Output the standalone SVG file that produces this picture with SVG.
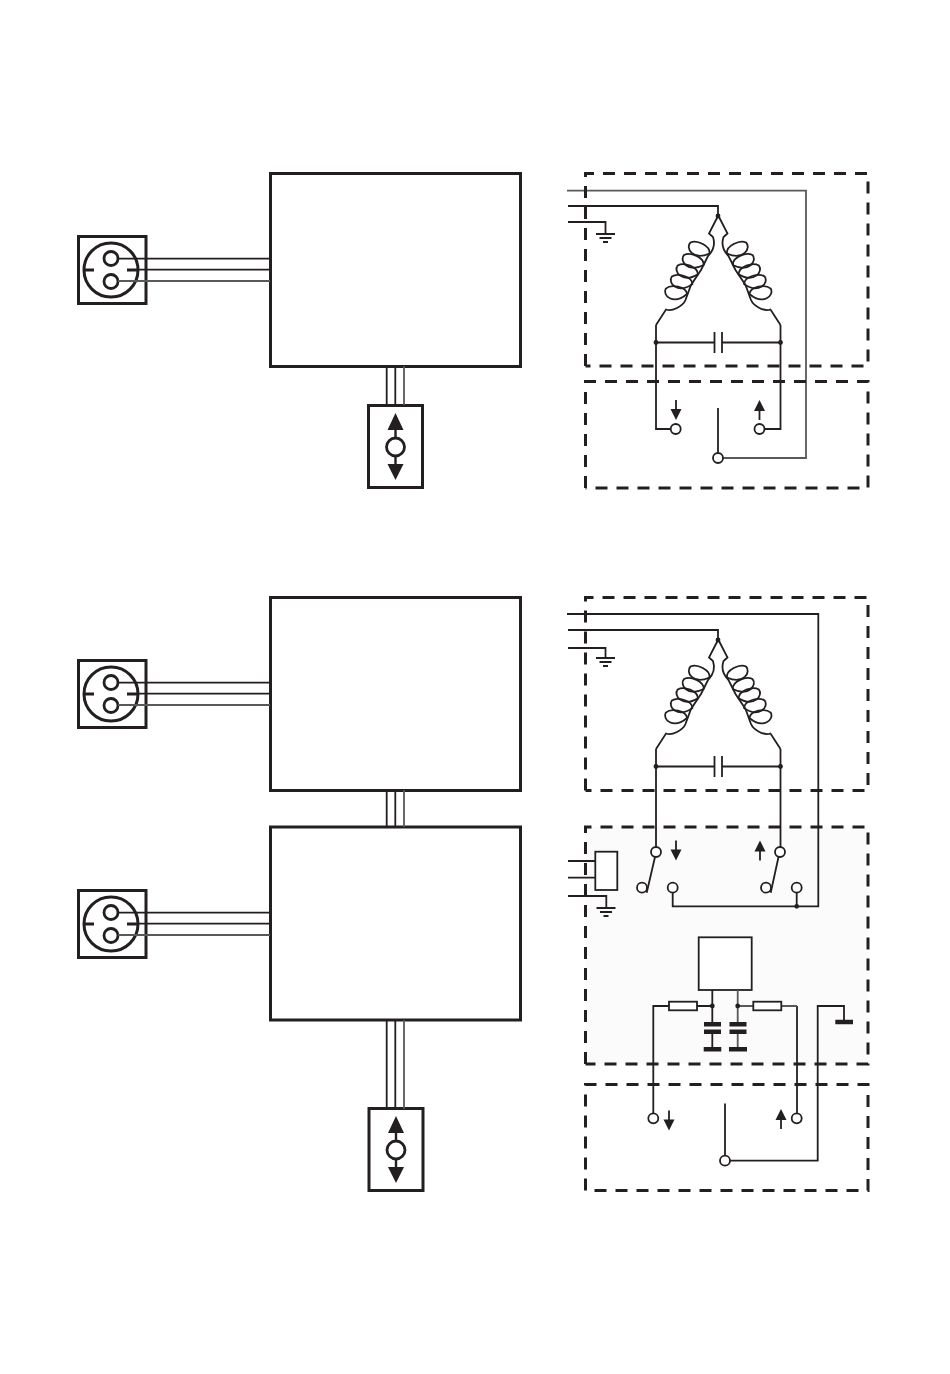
<svg xmlns="http://www.w3.org/2000/svg" xmlns:xlink="http://www.w3.org/1999/xlink" width="950" height="1374" viewBox="0 0 950 1374">
<style>
.w{fill:none;stroke:#231f20;stroke-width:1.8}
.g{fill:none;stroke:#58595b;stroke-width:1.8}
.box{fill:#fff;stroke:#231f20;stroke-width:3}
.dash{fill:none;stroke:#231f20;stroke-width:3;stroke-dasharray:12 9}
.c{fill:#fff;stroke:#231f20;stroke-width:1.8}
.k{fill:#231f20;stroke:none}
.bar{fill:none;stroke:#231f20;stroke-width:4.5}
</style>
<defs>
<path id="leaf" class="w" d="M10.500 3.500C11.500 -4 -2 -10.500 -8.500 -7.500C-14 -2 -6 11 10.500 3.500Z"/>
<g id="outlet">
<rect class="box" x="78.500" y="236.500" width="67.500" height="67"/>
<circle cx="111" cy="270" r="27" fill="none" stroke="#231f20" stroke-width="3"/>
<circle cx="111" cy="258.500" r="7" fill="none" stroke="#231f20" stroke-width="2.800"/>
<circle cx="111" cy="281.500" r="7" fill="none" stroke="#231f20" stroke-width="2.800"/>
<path d="M84 270H94M127 270H139" fill="none" stroke="#231f20" stroke-width="3"/>
</g>
<g id="ctrl">
<rect class="box" x="368.500" y="405.500" width="54" height="82"/>
<circle cx="395.500" cy="447" r="9" fill="#fff" stroke="#231f20" stroke-width="2.800"/>
<path d="M395.500 426V438M395.500 456V467" fill="none" stroke="#231f20" stroke-width="2.400"/>
<path class="k" d="M395.500 413L403.500 430H387.500ZM395.500 480L387.500 464H403.500Z"/>
</g>
<g id="coilL">
<path class="w" d="M718 216L709 233.500L713 237C715 243 714 250 708 256L701 270L691 285L685.500 300C683 306 672 312 666 309.500L656 325"/>
<use xlink:href="#leaf" transform="translate(699 250)"/>
<use xlink:href="#leaf" transform="translate(693 262) rotate(-3)"/>
<use xlink:href="#leaf" transform="translate(687 272) rotate(-6)"/>
<use xlink:href="#leaf" transform="translate(681.500 282.500) rotate(-10)"/>
<use xlink:href="#leaf" transform="translate(676 293.500) rotate(-16)"/>
</g>
<g id="motor">
<use xlink:href="#coilL"/>
<use xlink:href="#coilL" transform="translate(1436.500 0) scale(-1 1)"/>
<path class="w" d="M656 342.500H714.500M722 342.500H780.500M656 325V343M780.500 325V343"/>
<path d="M714.500 332V353M722 332V353" fill="none" stroke="#231f20" stroke-width="1.800"/>
<circle class="k" cx="718" cy="216" r="2.400"/>
<circle class="k" cx="656" cy="342.500" r="2.400"/>
<circle class="k" cx="780.500" cy="342.500" r="2.400"/>
</g>
<g id="gnd">
<path class="w" d="M596 0H615M599.500 4H611.500M603 8H608"/>
</g>
<g id="up"><path class="w" d="M0 20V8"/><path class="k" d="M0 0L5.500 11H-5.500Z"/></g>
<g id="down"><path class="w" d="M0 0V12"/><path class="k" d="M0 20L-5.500 9H5.500Z"/></g>
</defs>
<rect width="950" height="1374" fill="#fff"/>

<g id="unit-a"><rect class="box" x="270.500" y="173.500" width="250" height="193"/></g>
<g id="outlet-a"><use xlink:href="#outlet"/></g>
<g id="control-a"><use xlink:href="#ctrl"/></g>
<g id="unit-b"><rect class="box" x="270.500" y="597.500" width="250" height="193"/></g>
<g id="outlet-b"><use xlink:href="#outlet" y="424"/></g>
<g id="unit-c"><rect class="box" x="270.500" y="827" width="250" height="193"/></g>
<g id="outlet-c"><use xlink:href="#outlet" y="654"/></g>
<g id="control-c"><use xlink:href="#ctrl" x="0.500" y="703"/></g>

<g id="connectors">
<path class="w" d="M386.700 366V405M395.300 366V405"/><path class="g" d="M404 366V405"/>
<path class="w" d="M118 258.700H270M139 269.700H270"/><path class="g" d="M118 281H270"/>
<path class="w" d="M118 682.700H270M139 693.700H270"/><path class="g" d="M118 705H270"/>
<path class="w" d="M118 912.700H270M139 923.700H270"/><path class="g" d="M118 935H270"/>
<path class="w" d="M386.700 790V827M395.300 790V827"/><path class="g" d="M404 790V827"/>
<path class="w" d="M386.700 1020V1109M395.300 1020V1109"/><path class="g" d="M404 1020V1109"/>
</g>

<rect x="585.500" y="827" width="282.500" height="237" fill="#fbfbfb"/>

<g id="schematic-a">
<path class="g" d="M567 190.700H806V458H723"/>
<path class="w" d="M568 206H718V216M568 222H605.500V234"/>
<use xlink:href="#gnd" y="234"/>
<use xlink:href="#motor"/>
<path class="w" d="M656 342V429H671M780.500 342V429H764.500M718 408V453"/>
<circle class="c" cx="675.700" cy="429" r="5"/>
<circle class="c" cx="759.500" cy="429" r="5"/>
<circle class="c" cx="718" cy="458" r="5"/>
<use xlink:href="#down" x="676" y="400"/>
<use xlink:href="#up" x="759.500" y="400"/>
<path class="dash" d="M585.500 366V173.500H868V366H585.500"/>
<path class="dash" d="M585.500 488V381.500H868V488H585.500"/>
</g>

<g id="schematic-b">
<path class="w" d="M567 614H818.300V906.300H672.700V893M796.700 893V906.300"/>
<path class="w" d="M568 630H718V640M568 648H605.500V658"/>
<use xlink:href="#gnd" y="658"/>
<use xlink:href="#motor" y="424"/>
<path class="w" d="M656 766V847M780.500 766V847M655 857L646.700 892.700M778.500 857L770.700 892.700"/>
<circle class="c" cx="656" cy="852" r="5"/>
<circle class="c" cx="780" cy="852" r="5"/>
<circle class="c" cx="642" cy="887.700" r="5"/>
<circle class="c" cx="672.700" cy="887.700" r="5"/>
<circle class="c" cx="766" cy="887.700" r="5"/>
<circle class="c" cx="796.700" cy="887.700" r="5"/>
<circle class="k" cx="796.700" cy="906.300" r="2.400"/>
<use xlink:href="#down" x="676" y="840.500"/>
<use xlink:href="#up" x="760" y="840.500"/>
<path class="w" d="M568 861H595.300M568 877.700H595.300M568 896H606.300V908"/>
<rect x="595.300" y="851.700" width="22" height="38.300" fill="#fff" stroke="#231f20" stroke-width="1.800"/>
<use xlink:href="#gnd" y="908" x="0.500"/>
<rect x="698.700" y="937.300" width="53" height="52.700" fill="#fff" stroke="#231f20" stroke-width="1.800"/>
<path class="w" d="M712.300 990V1024M712.300 1032V1050M797 1006V1113.500M653.300 1113.500V1006H669M697 1006H712.300"/>
<path class="g" d="M737.700 990V1024M737.700 1032V1050M737.700 1006H753.300M781.300 1006H797"/>
<rect x="669" y="1001.700" width="28" height="8.600" fill="#fff" stroke="#231f20" stroke-width="1.800"/>
<rect x="753.300" y="1001.700" width="28" height="8.600" fill="#fff" stroke="#231f20" stroke-width="1.800"/>
<circle class="k" cx="712.300" cy="1006" r="2.400"/>
<circle class="k" cx="737.700" cy="1006" r="2.400"/>
<path class="bar" d="M704 1024.300H721M729.500 1024.300H746.500M704 1031.700H721M729.500 1031.700H746.500M703.700 1049.300H721.300M729 1049.300H747"/>
<path class="w" d="M844 1021V1006H817.700V1160.700H730M725 1103.500V1155.700"/>
<path class="bar" d="M835.300 1022H853"/>
<circle class="c" cx="653.300" cy="1118.300" r="5"/>
<circle class="c" cx="796.700" cy="1118.300" r="5"/>
<circle class="c" cx="725" cy="1160.700" r="5"/>
<use xlink:href="#down" x="669" y="1110.500"/>
<use xlink:href="#up" x="781" y="1109"/>
<path class="dash" d="M585.500 790.500V597.500H868V790.500H585.500"/>
<path class="dash" d="M585.500 1064V827H868V1064H585.500"/>
<path class="dash" d="M585.500 1190.500V1084.500H868V1190.500H585.500"/>
</g>
</svg>
